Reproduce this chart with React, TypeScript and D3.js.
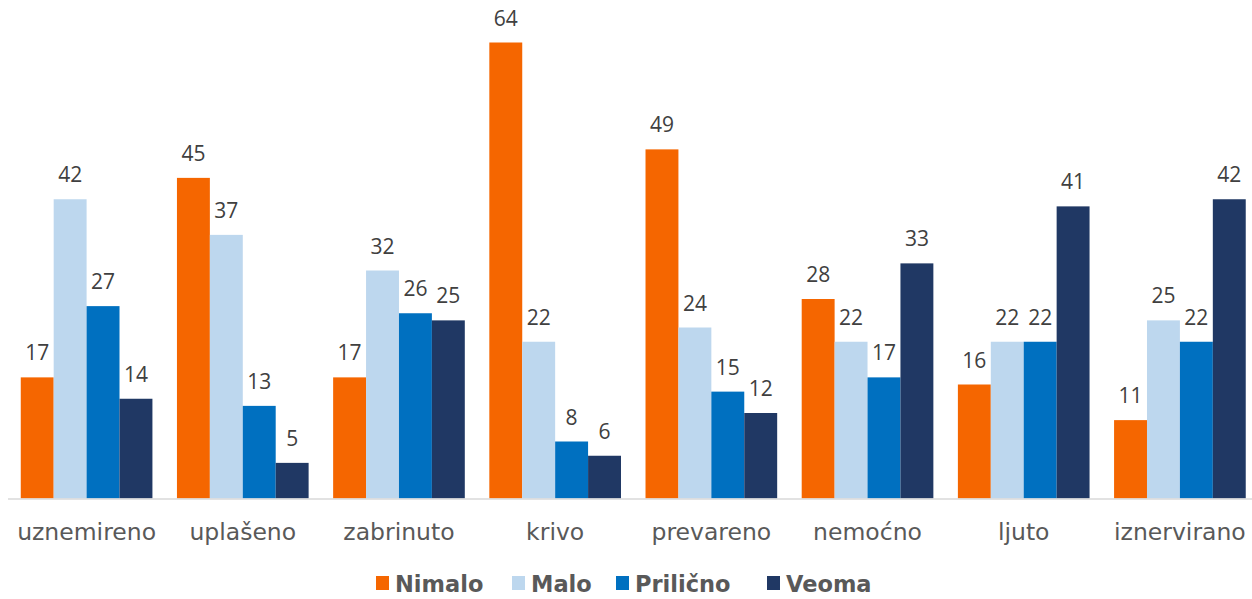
import React from "react";
import * as d3 from "d3";

const categories = ["uznemireno", "uplašeno", "zabrinuto", "krivo", "prevareno", "nemoćno", "ljuto", "iznervirano"];
const seriesNames = ["Nimalo", "Malo", "Prilično", "Veoma"];
const nimalo = [17, 45, 17, 64, 49, 28, 16, 11];
const malo = [42, 37, 32, 22, 24, 22, 22, 25];
const prilicno = [27, 13, 26, 8, 15, 17, 22, 22];
const veoma = [14, 5, 25, 6, 12, 33, 41, 42];
const seriesValues = [nimalo, malo, prilicno, veoma];
const colors = ["#F56600", "#BDD7EE", "#0070C0", "#203864"];

const W = 1252;
const H = 599;
const baseline = 498.5;

export default function App() {
  const x0 = d3.scaleBand<string>().domain(categories).range([8.5, 1258]).paddingInner(0.157).paddingOuter(0.0785);
  const x1 = d3.scaleBand<string>().domain(seriesNames).range([0, x0.bandwidth()]).padding(0);
  const y = d3.scaleLinear().domain([0, 64]).range([baseline, 42.5]);
  const legendX = [376, 512, 616, 767];

  return (
    <svg width={W} height={H} style={{ position: "absolute", left: 0, top: 0 }}>
      <rect width={W} height={H} fill="#fff" />
      {seriesNames.map((s, si) =>
        categories.map((c, ci) => {
          const v = seriesValues[si][ci];
          const bx = (x0(c) ?? 0) + (x1(s) ?? 0);
          return (
            <g key={s + c}>
              <rect x={bx} y={y(v)} width={x1.bandwidth()} height={baseline - y(v)} fill={colors[si]} />
              <text
                x={bx + x1.bandwidth() / 2}
                y={y(v) - 17}
                textAnchor="middle"
                fontFamily="'Open Sans', sans-serif"
                fontSize={21}
                fill="#404040"
              >
                {v}
              </text>
            </g>
          );
        })
      )}
      <line x1={8} x2={W} y1={baseline + 0.5} y2={baseline + 0.5} stroke="#D9D9D9" strokeWidth={1.5} />
      {categories.map((c) => (
        <text
          key={c}
          x={(x0(c) ?? 0) + x0.bandwidth() / 2}
          y={540}
          textAnchor="middle"
          fontFamily="'DejaVu Sans', Verdana, sans-serif"
          fontSize={23.5}
          fill="#595959"
        >
          {c}
        </text>
      ))}
      {seriesNames.map((s, si) => (
        <g key={s}>
          <rect x={legendX[si]} y={576} width={13} height={14} fill={colors[si]} />
          <text
            x={legendX[si] + 19}
            y={592}
            fontFamily="'DejaVu Sans', Verdana, sans-serif"
            fontWeight="bold"
            fontSize={22.5}
            fill="#595959"
          >
            {s}
          </text>
        </g>
      ))}
    </svg>
  );
}
